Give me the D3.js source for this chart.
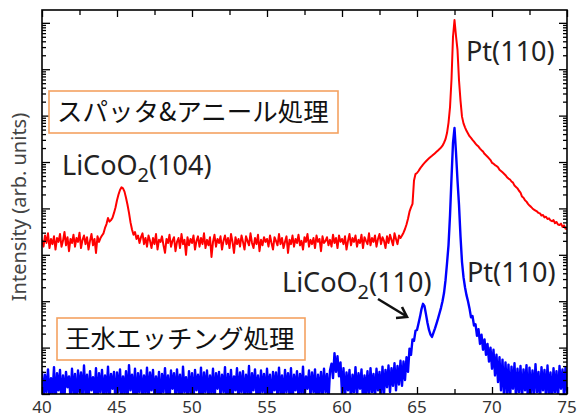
<!DOCTYPE html>
<html><head><meta charset="utf-8">
<script src="https://cdn.jsdelivr.net/npm/d3@7"></script>
<style>body{margin:0;background:#fff}svg{display:block}</style>
</head><body><svg id="c" width="579" height="419"></svg>
<script>
// 2θ sampling: start and step (degrees)
const xStart = 40, xStep = 0.1;
// Red: sputter & anneal (counts, log scale)
const redValues = [
2100,1500,2600,1800,2900,1400,2200,1700,2500,1300,
2300,1900,2800,1500,2000,3100,1600,2400,1200,2200,
1800,2700,1500,2300,1900,3000,1400,2100,2600,1700,
2400,1300,2000,2800,1600,2200,1100,2500,1900,2300,
2600,2900,3800,4600,6200,5200,5600,6300,8000,10500,
15000,20000,25000,28500,27000,23000,17000,12000,8000,5000,
3500,2700,3100,2200,2600,1800,2400,2900,1700,2300,
1500,2600,2000,1400,2300,1700,2800,1300,2100,1900,
2500,1600,1100,2200,1800,2700,1500,2000,2400,1200,
1900,2300,1400,2800,1700,2100,1000,2400,1600,2200,
1800,2600,1300,2000,2500,1500,2300,1700,2900,1400,
2100,1600,2400,900,1900,2700,1500,2200,1800,2500,
1300,2000,2600,1700,2300,1400,2800,1900,1100,2400,
1700,2200,1500,2600,1900,1300,2500,2000,1600,2900,
1800,1400,2300,1700,2700,1200,2100,1600,2400,1900,
2200,1500,2600,1800,1300,2400,2000,1600,2800,1700,
2300,1400,1900,2500,1100,2100,1700,2600,1500,2200,
1800,2700,1600,2000,1300,2400,1900,2800,1500,2100,
1700,2300,1400,2600,1900,2200,1200,2500,1800,2000,
2400,1600,2100,1500,2700,1800,2300,1400,2600,1900,
2200,1700,2500,1300,2000,2800,1600,2300,1900,2600,
1500,2100,1800,2700,1400,2400,2000,1700,2900,1600,
2300,1900,2600,1500,2200,2800,1700,2400,2000,1400,
2500,1800,2700,2100,1600,2900,2200,1700,2600,2300,
2600,3000,3600,4500,6000,8500,10500,12500,40000,55000,
58000,64000,72000,80000,88000,96000,104000,112000,120000,128000,
136000,145000,155000,166000,178000,190000,205000,225000,260000,310000,
420000,700000,1500000,6000000,50000000,115000000,52000000,26000000,5800000,2100000,
950000,680000,560000,470000,410000,360000,330000,300000,275000,250000,
230000,215000,195000,180000,168000,150000,140000,130000,120000,110000,
96000,92000,86000,82000,77000,68000,64000,60000,56000,52000,
47000,44000,42000,38000,36000,31000,29000,27000,24000,22000,
18000,17000,15000,14000,12500,11500,10800,10000,9400,9000,
8600,8000,7800,7000,7200,6400,6600,5900,6100,5500,
5300,5600,4800,5100,4500,4400,4700,4000,4300,3700,
3500];
// Blue: aqua regia etched (counts, log scale; < 1 falls below the axis)
const blueValues = [
3.1,0.7,2.6,1.1,3.4,0.8,2.2,1.0,3.8,0.6,
2.8,1.2,3.3,0.7,2.5,0.9,3.0,1.4,2.4,0.8,
3.5,1.0,2.7,0.6,3.2,1.1,2.9,0.8,4.1,1.0,
2.6,0.7,3.1,1.2,2.3,0.9,3.6,0.6,2.8,1.1,
3.3,0.8,2.5,1.0,3.9,0.7,2.7,1.3,3.0,0.6,
2.9,1.1,3.4,0.8,2.4,1.0,3.1,0.7,4.2,1.2,
2.6,0.9,3.5,0.6,2.8,1.1,3.2,0.8,2.5,1.0,
3.7,0.7,2.9,1.2,3.3,0.8,2.4,1.0,3.0,0.6,
2.7,1.1,3.6,0.9,2.5,0.7,3.2,1.3,2.8,0.8,
3.4,1.0,2.6,0.6,3.9,1.1,2.3,0.8,3.1,1.0,
2.8,0.7,3.3,1.2,2.6,0.9,3.7,0.6,2.9,1.1,
3.2,0.8,2.5,1.0,3.5,0.7,2.8,1.3,3.0,0.9,
2.6,1.1,3.8,0.6,2.7,1.0,3.3,0.8,2.4,1.2,
3.6,0.7,2.9,1.1,3.1,0.8,2.6,1.0,4.0,0.6,
2.8,1.2,3.4,0.9,2.5,0.7,3.2,1.1,2.7,0.8,
3.5,1.0,2.6,0.6,3.0,1.2,2.9,0.8,3.7,1.0,
2.5,0.7,3.3,1.1,2.8,0.9,3.6,0.6,2.6,1.2,
3.1,0.8,2.7,1.0,3.9,0.7,2.4,1.3,3.2,0.9,
2.9,1.1,3.4,0.6,2.6,1.0,3.0,0.8,3.5,1.1,
2.7,0.7,3.2,4.5,2.2,7.6,3.0,6.5,2.4,4.8,
1.0,3.6,0.8,2.9,1.2,3.3,0.7,2.6,1.1,3.8,
0.9,2.8,1.3,3.4,0.7,2.5,1.0,3.1,0.8,3.6,
1.1,2.7,0.8,3.5,1.2,3.0,0.9,3.9,1.0,3.3,
1.4,4.1,1.1,3.6,1.5,4.6,1.2,4.0,1.6,5.2,
1.5,5.0,2.0,6.2,3.0,9.5,7.0,15,14,23,
24,33,46,68,88,78,52,34,24,19,
17,21,26,33,42,55,72,100,150,280,
650,1600,7000,45000,260000,540000,160000,40000,12000,2500,
700,330,200,135,100,70,45,48,30,32,
18,25,12,19,9,15,7,12,5,10,
3.5,9,2.5,7,1.8,6.2,1.2,5.5,0.9,4.8,
1.0,4.3,0.7,3.9,1.3,4.6,0.8,3.5,1.1,4.0,
0.8,3.4,1.2,4.2,0.6,3.7,1.0,3.2,0.9,4.4,
1.1,3.0,0.7,3.8,1.2,3.3,0.8,4.1,1.0,2.9,
0.7,3.6,1.1,3.1,0.8,4.0,1.3,3.4,0.9,3.7,
1.0];
const xTicks = [40, 45, 50, 55, 60, 65, 70, 75];
const xMinorTicks = [42.5, 47.5, 52.5, 57.5, 62.5, 67.5, 72.5];
const yDomain = [1, 1.89e8];

const svg = d3.select("#c");
const L = 42, R = 567, T = 10, B = 394;
const x = d3.scaleLinear().domain([40, 75]).range([L, R]);
const y = d3.scaleLog().domain(yDomain).range([B, T]);

const twoTheta = redValues.map((_, i) => +(xStart + i * xStep).toFixed(2));
const red = twoTheta.map((t, i) => ({t, v: redValues[i]}));
const blue = twoTheta.map((t, i) => ({t, v: blueValues[i]}));

svg.append("defs").append("clipPath").attr("id", "clip")
  .append("rect").attr("x", L).attr("y", T).attr("width", R - L).attr("height", B - T);

const line = d3.line().x(d => x(d.t)).y(d => y(Math.max(d.v, 0.3)));
const g = svg.append("g").attr("clip-path", "url(#clip)");
g.append("path").datum(red).attr("d", line).attr("fill", "none")
  .attr("stroke", "#ff0000").attr("stroke-width", 2).attr("stroke-linejoin", "round");
g.append("path").datum(blue).attr("d", line).attr("fill", "none")
  .attr("stroke", "#0000ff").attr("stroke-width", 2.4).attr("stroke-linejoin", "round");

// axes
const allY = y.ticks().filter(v => v >= yDomain[0] && v <= yDomain[1]);
const majorY = allY.filter(v => Math.abs(Math.log10(v) - Math.round(Math.log10(v))) < 1e-9);
const minorY = allY.filter(v => !majorY.includes(v));
function ax(gen, vals, size, tx, ty) {
  const a = svg.append("g").attr("transform", `translate(${tx},${ty})`)
    .call(gen.tickValues(vals).tickSizeInner(size).tickSizeOuter(0).tickFormat(""));
  a.select(".domain").remove();
  a.selectAll("line").attr("stroke", "#000").attr("stroke-width", 1.3);
  return a;
}
ax(d3.axisLeft(y), majorY, -8, L, 0);
ax(d3.axisLeft(y), minorY, -4, L, 0);
ax(d3.axisRight(y), majorY, -8, R, 0);
ax(d3.axisRight(y), minorY, -4, R, 0);
ax(d3.axisBottom(x), xTicks, -7, 0, B);
ax(d3.axisBottom(x), xMinorTicks, -5, 0, B);
ax(d3.axisTop(x), xTicks, -7, 0, T);
ax(d3.axisTop(x), xMinorTicks, -5, 0, T);

svg.append("rect").attr("x", L).attr("y", T).attr("width", R - L).attr("height", B - T)
  .attr("fill", "none").attr("stroke", "#000").attr("stroke-width", 1.6);

svg.append("g").selectAll("text").data(xTicks).join("text")
  .attr("x", d => x(d)).attr("y", 413).attr("text-anchor", "middle")
  .attr("font-family", "Noto Sans").attr("font-size", 17).attr("fill", "#333")
  .text(d => d);

svg.append("text").attr("transform", "translate(26,207) rotate(-90)")
  .attr("text-anchor", "middle").attr("font-family", "Noto Sans").attr("font-size", 20)
  .attr("fill", "#444").text("Intensity (arb. units)");

// annotations
const lab = (px, py, txt) => svg.append("text").attr("x", px).attr("y", py)
  .attr("font-family", "Noto Sans").attr("font-size", 27).attr("fill", "#222").text(txt);
lab(466, 61, "Pt(110)");
lab(467, 282, "Pt(110)");
function licoo(px, py, idx) {
  const t = svg.append("text").attr("x", px).attr("y", py)
    .attr("font-family", "Noto Sans").attr("font-size", 27).attr("fill", "#222");
  t.append("tspan").text("LiCoO");
  t.append("tspan").attr("font-size", 20).attr("dy", 7).text("2");
  t.append("tspan").attr("dy", -7).text(idx);
}
licoo(62, 175, "(104)");
licoo(282, 292, "(110)");

// arrow
svg.append("line").attr("x1", 378).attr("y1", 299).attr("x2", 406).attr("y2", 316)
  .attr("stroke", "#111").attr("stroke-width", 2.6);
svg.append("path").attr("d", "M396,318 L407,317 L402,307")
  .attr("fill", "none").attr("stroke", "#111").attr("stroke-width", 2.6)
  .attr("stroke-linejoin", "miter");

// boxes
function box(bx, by, bw, bh, tx, ty, txt) {
  svg.append("rect").attr("x", bx).attr("y", by).attr("width", bw).attr("height", bh)
    .attr("fill", "#fff").attr("stroke", "#F4A261").attr("stroke-width", 1.6);
  svg.append("text").attr("x", tx).attr("y", ty)
    .attr("font-family", "Noto Sans CJK JP").attr("font-size", 25.5).attr("fill", "#111")
    .text(txt);
}
box(49, 91, 289, 42, 57, 121, "スパッタ&アニール処理");
box(57, 318, 248, 42, 65, 348, "王水エッチング処理");
</script></body></html>
